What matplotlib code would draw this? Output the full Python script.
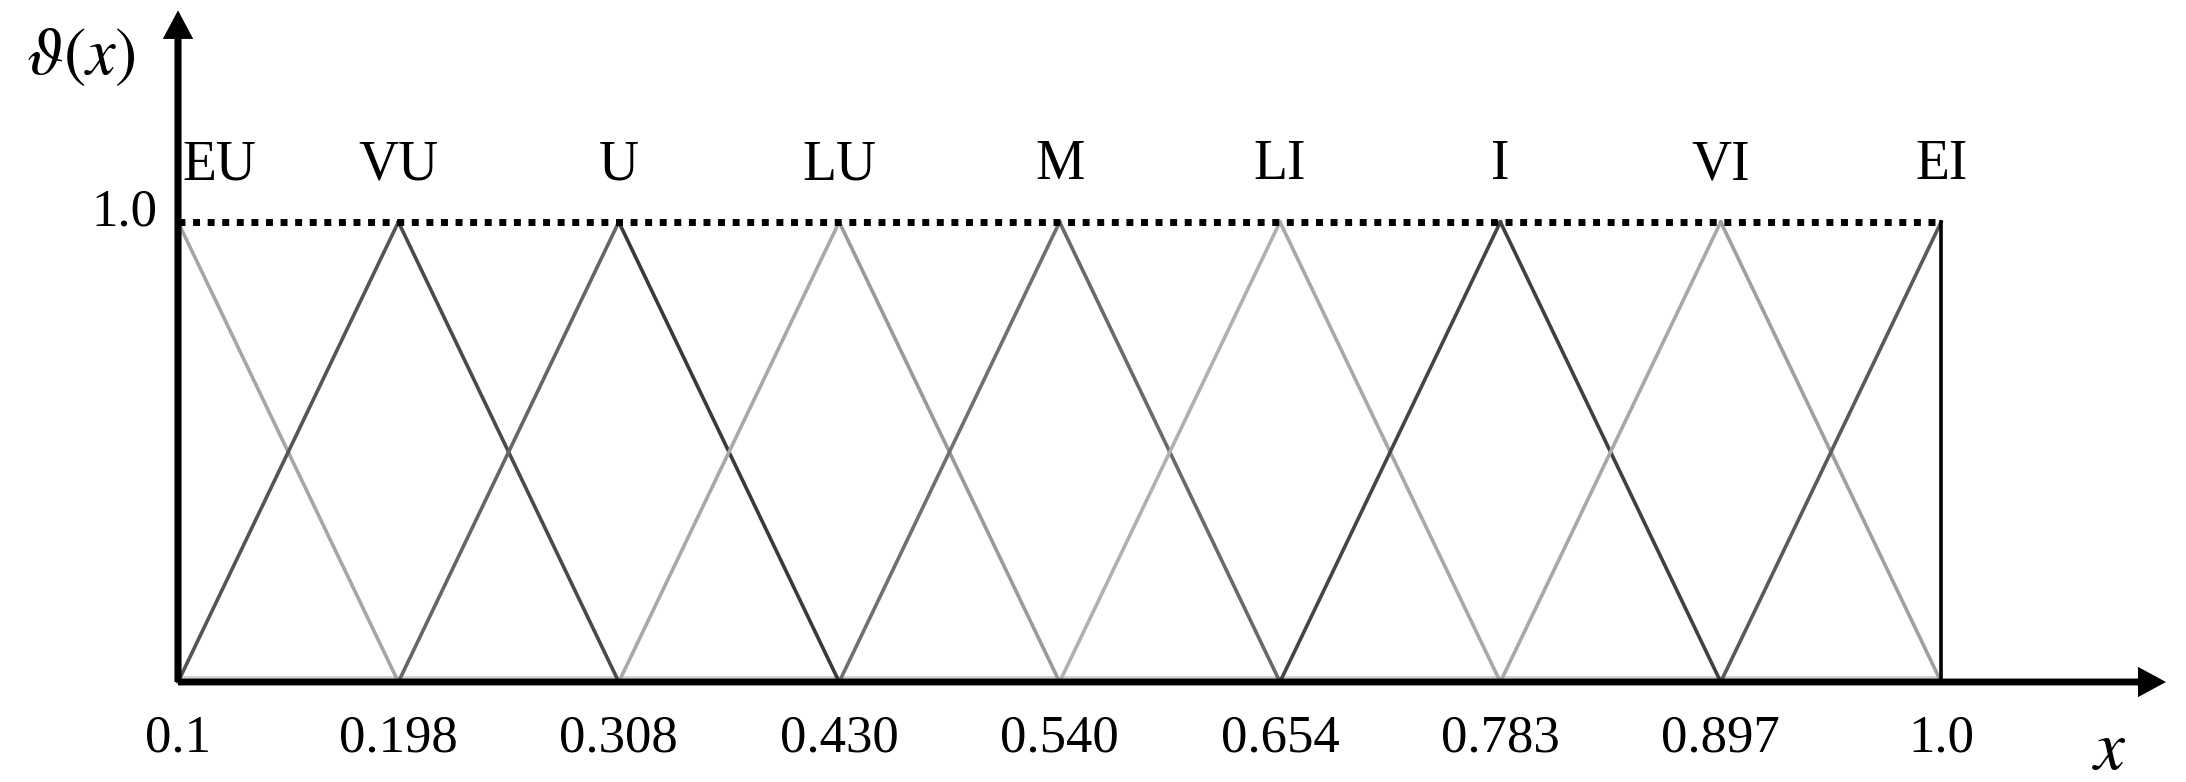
import numpy as np
import matplotlib.pyplot as plt
from matplotlib.patches import FancyArrow

plt.rcParams['font.family'] = 'Liberation Serif'
plt.rcParams['mathtext.fontset'] = 'stix'

# linguistic terms and their x values (peaks drawn equally spaced)
terms = ['EU', 'VU', 'U', 'LU', 'M', 'LI', 'I', 'VI', 'EI']
x_values = ['0.1', '0.198', '0.308', '0.430', '0.540', '0.654', '0.783', '0.897', '1.0']
peak = 1.0

# grey shade of the rising / falling side of each triangle
left_colors = [None, '#555555', '#666666', '#a8a8a8', '#707070', '#b0b0b0', '#454545', '#a8a8a8', '#5a5a5a']
right_colors = ['#a6a6a6', '#4a4a4a', '#3a3a3a', '#9a9a9a', '#6a6a6a', '#a8a8a8', '#404040', '#a0a0a0', None]

n = len(terms)
pos = np.arange(n)

fig = plt.figure(figsize=(21.86, 7.82), dpi=100)
ax = fig.add_axes([0, 0, 1, 1])
ax.set_xlim(-0.8077, 9.111)
ax.set_ylim(-0.2174, 1.4826)
ax.axis('off')

# light grey base strip along x axis
ax.fill_between([pos[0], pos[-1]], 0, 0.013, color='#d4d4d4', lw=0, zorder=1)

# triangular membership functions
for i in range(n):
    if left_colors[i] is not None:
        ax.plot([pos[i - 1], pos[i]], [0, peak], color=left_colors[i], lw=2.6, zorder=2)
    if right_colors[i] is not None:
        ax.plot([pos[i], pos[i + 1]], [peak, 0], color=right_colors[i], lw=2.6, zorder=2)

# dotted top line and right border
ax.plot([pos[0], pos[-1]], [peak, peak], color='black', lw=5, linestyle=(0, (1, 1.1)), zorder=3)
ax.plot([pos[-1], pos[-1]], [0, peak], color='black', lw=2.6, zorder=3)

# axes with arrow heads
ax.add_patch(FancyArrow(pos[0], 0, n + 0.02, 0, width=0.015, head_width=0.066,
                        head_length=0.127, length_includes_head=True, color='black', lw=0, zorder=4))
ax.add_patch(FancyArrow(pos[0], 0, 0, 1.46, width=0.032, head_width=0.138,
                        head_length=0.062, length_includes_head=True, color='black', lw=0, zorder=4))

# term labels above peaks (first one sits right of the y axis)
for p, t in zip(pos, terms):
    if p == pos[0]:
        ax.annotate(t, (p, peak), xytext=(3, 41), textcoords='offset points',
                    ha='left', va='center', fontsize=40)
    else:
        ax.annotate(t, (p, peak), xytext=(0, 41), textcoords='offset points',
                    ha='center', va='center', fontsize=40)

# x value labels below axis
for p, v in zip(pos, x_values):
    ax.annotate(v, (p, 0), xytext=(0, -41), textcoords='offset points',
                ha='center', va='center', fontsize=38)

ax.annotate('1.0', (pos[0], peak), xytext=(-15, 6.5), textcoords='offset points',
            ha='right', va='center', fontsize=38)

fig.text(81 / 2186, 1 - 57 / 782, r'$\vartheta(x)$', ha='center', va='center', fontsize=48)
fig.text(2109 / 2186, 1 - 752 / 782, r'$x$', ha='center', va='center', fontsize=50)

fig.savefig('out.png', dpi=100, facecolor='white')
